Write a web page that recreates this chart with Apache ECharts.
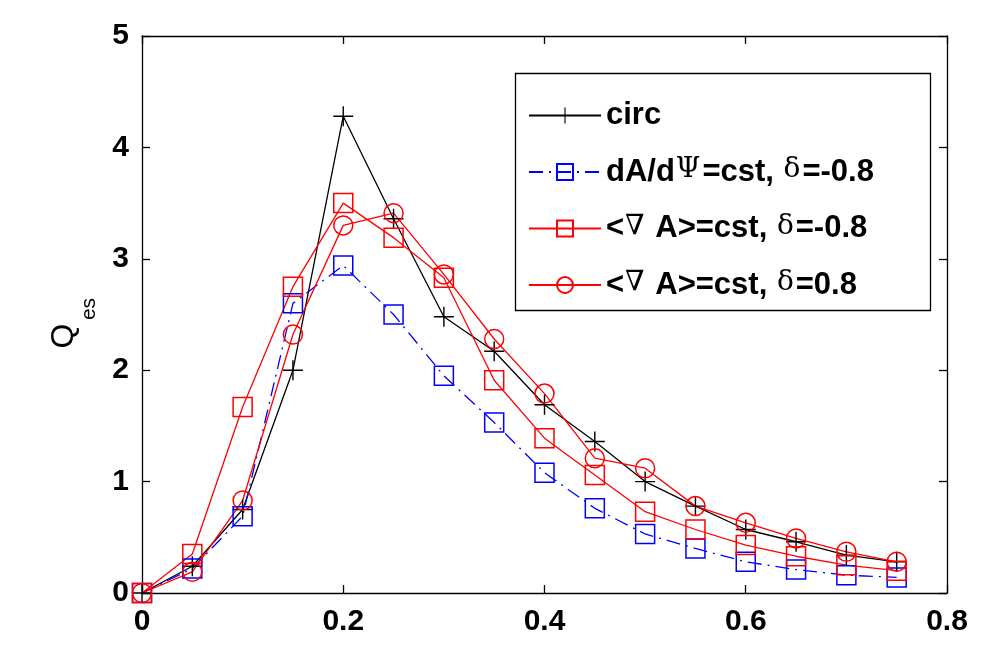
<!DOCTYPE html>
<html>
<head>
<meta charset="utf-8">
<script src="https://cdn.jsdelivr.net/npm/echarts@6/dist/echarts.min.js"></script>
<style>
  html, body { margin: 0; padding: 0; background: #fff; }
  #chart { width: 981px; height: 649px; }
</style>
</head>
<body>
<div id="chart"></div>
<script>
// x positions shared by all curves
var xs = [0, 0.05, 0.1, 0.15, 0.2, 0.25, 0.3, 0.35, 0.4, 0.45, 0.5, 0.55, 0.6, 0.65, 0.7, 0.75];
// Q_es values
var circ     = [0, 0.24, 0.75, 2.0, 4.28, 3.36, 2.48, 2.17, 1.69, 1.36, 1.0, 0.78, 0.57, 0.46, 0.34, 0.28];
var dAdPsi   = [0, 0.22, 0.69, 2.6, 2.94, 2.5, 1.95, 1.53, 1.08, 0.76, 0.53, 0.40, 0.28, 0.21, 0.16, 0.14];
var gradNeg  = [0, 0.35, 1.67, 2.75, 3.5, 3.19, 2.83, 1.91, 1.39, 1.06, 0.73, 0.57, 0.43, 0.33, 0.25, 0.20];
var gradPos  = [0, 0.19, 0.83, 2.32, 3.3, 3.41, 2.86, 2.28, 1.79, 1.21, 1.12, 0.78, 0.63, 0.49, 0.37, 0.28];
var seriesNames = ['circ', 'dA/d\u03A8=cst, \u03B4=-0.8', '<\u2207 A>=cst, \u03B4=-0.8', '<\u2207 A>=cst, \u03B4=0.8'];
var xTicks = [0, 0.2, 0.4, 0.6, 0.8];

var FONT = '"Liberation Sans", Arial, Helvetica, sans-serif';
var plus = 'path://M9.3,0H10.7V9.3H20V10.7H10.7V20H9.3V10.7H0V9.3H9.3Z';

function pairs(ys) {
  return xs.map(function (x, i) { return [x, ys[i]]; });
}

// greek letters look like the symbol font of the original
function legendText(name) {
  var out = '', buf = '';
  for (var i = 0; i < name.length; i++) {
    var ch = name[i];
    if (ch === '\u03A8' || ch === '\u03B4' || ch === '\u2207') {
      if (buf) { out += '{t|' + buf + '}'; buf = ''; }
      out += '{g|' + ch + '}';
    } else {
      buf += ch;
    }
  }
  if (buf) out += '{t|' + buf + '}';
  return out;
}

var chart = echarts.init(document.getElementById('chart'));

var axisCommon = {
  axisLine: { show: true, onZero: false, lineStyle: { color: '#000', width: 1.3 } },
  axisTick: { show: true, inside: true, length: 8, lineStyle: { color: '#000', width: 1.3 } },
  splitLine: { show: false }
};

chart.setOption({
  animation: false,
  backgroundColor: '#fff',
  grid: { left: 142, right: 34, top: 36, bottom: 56 },
  xAxis: [
    Object.assign({
      type: 'value', min: 0, max: 0.8, interval: 0.2, position: 'bottom',
      axisLabel: { color: '#000', fontSize: 30, fontWeight: 'bold', fontFamily: FONT, margin: 14,
        customValues: xTicks }
    }, axisCommon),
    Object.assign({
      type: 'value', min: 0, max: 0.8, interval: 0.2, position: 'top',
      axisLabel: { show: false }
    }, axisCommon)
  ],
  yAxis: [
    Object.assign({
      type: 'value', min: 0, max: 5, interval: 1, position: 'left',
      axisLabel: { color: '#000', fontSize: 30, fontWeight: 'bold', fontFamily: FONT, margin: 13 }
    }, axisCommon),
    Object.assign({
      type: 'value', min: 0, max: 5, interval: 1, position: 'right',
      axisLabel: { show: false }
    }, axisCommon)
  ],
  graphic: [
    {
      type: 'rect',
      shape: { x: 515.5, y: 73.5, width: 415, height: 237 },
      style: { fill: '#fff', stroke: '#000', lineWidth: 1.3 },
      z: 50
    },
    {
      type: 'text', x: 64, y: 336, rotation: Math.PI / 2,
      style: { text: 'Q', fill: '#000', font: '32px ' + FONT, align: 'center', verticalAlign: 'middle' }
    },
    {
      type: 'text', x: 89, y: 309, rotation: Math.PI / 2,
      style: { text: 'es', fill: '#000', font: '21px ' + FONT, align: 'center', verticalAlign: 'middle' }
    }
  ],
  legend: {
    orient: 'vertical',
    left: 528,
    top: 100,
    padding: 0,
    itemWidth: 72,
    itemHeight: 20,
    itemGap: 25,
    z: 60,
    data: seriesNames,
    formatter: legendText,
    textStyle: {
      rich: {
        t: { fontSize: 31, fontWeight: 'bold', fontFamily: FONT, color: '#000', lineHeight: 34 },
        g: { fontSize: 28, fontFamily: '"DejaVu Serif", serif', color: '#000', padding: [0, 2, 4, 1] }
      }
    }
  },
  series: [
    {
      name: seriesNames[0], type: 'line', data: pairs(circ),
      symbol: plus, symbolSize: 20,
      lineStyle: { color: '#000', width: 1.3 },
      itemStyle: { color: '#000' }
    },
    {
      name: seriesNames[1], type: 'line', data: pairs(dAdPsi),
      symbol: 'rect', symbolSize: 19,
      lineStyle: { color: '#0000ff', width: 1.3, type: [14, 6, 2, 6] },
      itemStyle: { color: 'rgba(0,0,0,0)', borderColor: '#0000ff', borderWidth: 1.5 }
    },
    {
      name: seriesNames[2], type: 'line', data: pairs(gradNeg),
      symbol: 'rect', symbolSize: 19,
      lineStyle: { color: '#ff0000', width: 1.3 },
      itemStyle: { color: 'rgba(0,0,0,0)', borderColor: '#ff0000', borderWidth: 1.5 }
    },
    {
      name: seriesNames[3], type: 'line', data: pairs(gradPos),
      symbol: 'circle', symbolSize: 19,
      lineStyle: { color: '#ff0000', width: 1.3 },
      itemStyle: { color: 'rgba(0,0,0,0)', borderColor: '#ff0000', borderWidth: 1.5 }
    }
  ]
});
</script>
</body>
</html>
